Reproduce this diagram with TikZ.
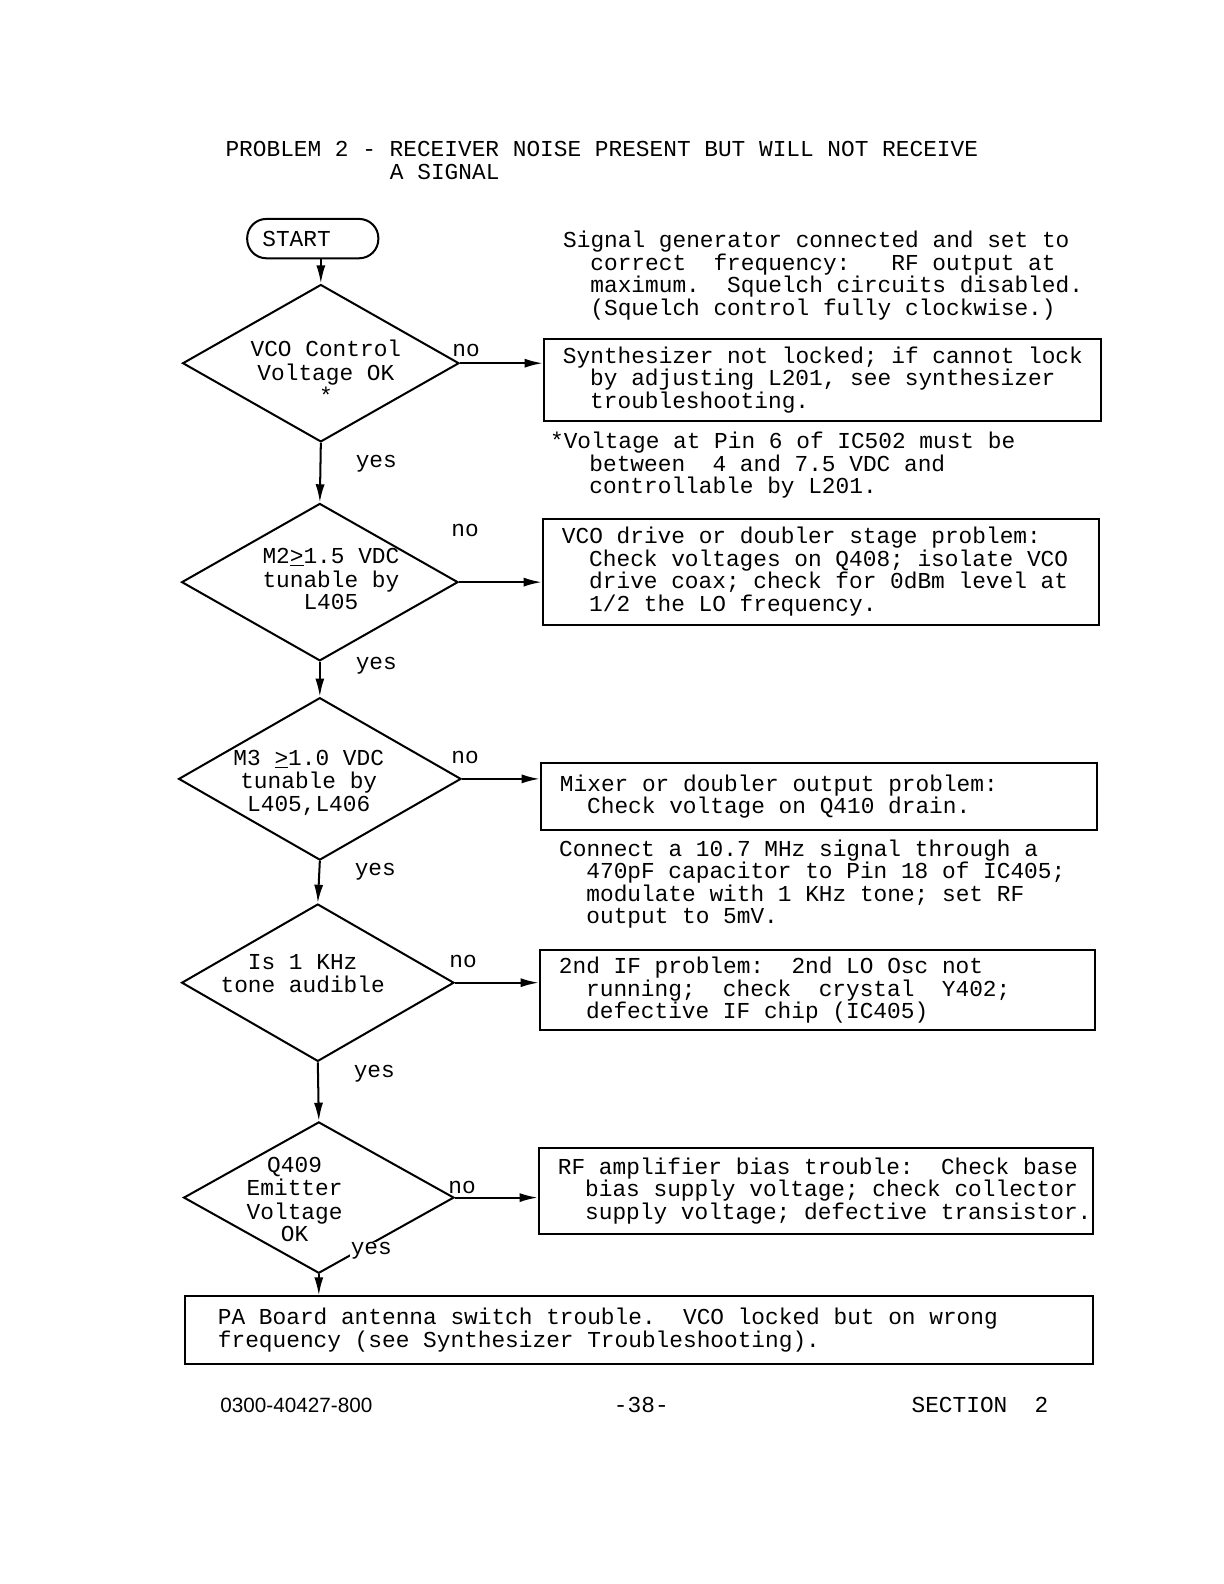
\documentclass[tikz,border=0pt]{standalone}
\usepackage{fontspec}
\setmonofont{Liberation Mono}
\setsansfont{Liberation Sans}
\usepackage{tikz}
\usetikzlibrary{shapes.geometric,arrows.meta}

\newcommand{\ind}{\hspace*{27pt}}
% text of a decision, moved off the centre of its diamond
\newcommand{\dtext}[3]{\makebox[0pt]{\hspace*{#1}\hspace*{#1}\raisebox{#2}[\height][\depth]{\begin{tabular}{@{}c@{}}#3\end{tabular}}}}
\frenchspacing

\begin{document}
\begin{tikzpicture}[x=1pt,y=-1pt,
	every node/.style={font=\ttfamily\fontsize{22.6}{22.3}\selectfont},
	decision/.style={draw,diamond,aspect=1.76,line width=2pt,inner sep=0pt,minimum width=274pt,minimum height=156pt,align=center},
	problem/.style={draw,rectangle,line width=2pt,inner xsep=19pt,inner ysep=0pt,align=left,anchor=north west,
		execute at begin node={\spaceskip=0pt\xspaceskip=0pt}},
	note/.style={inner sep=0pt,align=left,anchor=north west},
	arr/.style={line width=2pt,-{Latex[length=18pt,width=9pt]}}]
	\useasboundingbox (0,0) rectangle (1213,1570);
	% title
	\node[anchor=base west] (title1) at (220,155) {PROBLEM 2 - RECEIVER NOISE PRESENT BUT WILL NOT RECEIVE};
	\node[anchor=base west] (title2) at (383,178) {A SIGNAL};
	% start and decisions
	\node[draw,rounded corners=19pt,line width=2pt,minimum width=130pt,minimum height=39pt,text width=100pt,inner xsep=15pt,align=left] (start) at (310,236.5) {START};
	\node[decision] (d1) at (318,360) {\dtext{5pt}{-12pt}{VCO Control\\Voltage OK\\{*}}};
	\node[decision] (d2) at (317,577) {\dtext{11pt}{0pt}{M2\underline{>}1.5 VDC\\tunable by\\L405}};
	\node[decision,minimum width=280pt,minimum height=161pt] (d3) at (317,772) {\dtext{-11pt}{-5pt}{M3 \underline{>}1.0 VDC\\tunable by\\L405,L406}};
	\node[decision,minimum width=270pt] (d4) at (315,974) {\dtext{-15pt}{6pt}{Is 1 KHz\\tone audible}};
	\node[decision,minimum width=268pt,minimum height=150pt] (d5) at (316,1187) {\dtext{-24pt}{-5pt}{Q409\\Emitter\\Voltage\\OK}};
	% notes
	\node[note] (setup) at (558,229) {Signal generator connected and set to\\\ind correct\ \ frequency:\ \ \ RF output at\\\ind maximum.\ \ Squelch circuits disabled.\\\ind (Squelch control fully clockwise.)};
	\node[note] (vnote) at (545,428) {*Voltage at Pin 6 of IC502 must be\\\hspace*{39pt}between\ \ 4 and 7.5 VDC and\\\hspace*{39pt}controllable by L201.};
	\node[note] (ifnote) at (554,832) {Connect a 10.7 MHz signal through a\\\ind 470pF capacitor to Pin 18 of IC405;\\\ind modulate with 1 KHz tone; set RF\\\ind output to 5mV.};
	% problem boxes
	\node[problem,text width=514pt,minimum height=81pt] (b1) at (538,335) {\mbox{Synthesizer not locked; if cannot lock}\\\ind by adjusting L201, see synthesizer\\\ind troubleshooting.};
	\node[problem,text width=513pt,minimum height=105pt] (b2) at (537,513) {VCO drive or doubler stage problem:\\\ind Check voltages on Q408; isolate VCO\\\ind drive coax; check for 0dBm level at\\\ind 1/2 the LO frequency.};
	\node[problem,text width=513pt,minimum height=67pt] (b3) at (535,755) {Mixer or doubler output problem:\\\ind Check voltage on Q410 drain.};
	\node[problem,text width=512pt,minimum height=79pt] (b4) at (534,941) {2nd IF problem:\ \ 2nd LO Osc not\\\ind running;\ \ check\ \ crystal\ \ Y402;\\\ind defective IF chip (IC405)};
	\node[problem,text width=511pt,minimum height=85pt] (b5) at (533,1137) {\mbox{RF amplifier bias trouble:\ \ Check base}\\\ind \mbox{bias supply voltage; check collector}\\\ind \mbox{supply voltage; defective transistor.}};
	\node[problem,text width=834pt,inner xsep=33pt,minimum height=67pt] (b6) at (182,1284) {PA Board antenna switch trouble.\ \ VCO locked but on wrong\\frequency (see Synthesizer Troubleshooting).};
	% yes / no labels
	\node (no1) at (462,347) {no};
	\node (no2) at (461,526) {no};
	\node (no3) at (461,751) {no};
	\node (no4) at (459,953) {no};
	\node (no5) at (458,1177) {no};
	\node (yes1) at (373,460) {yes};
	\node (yes2) at (373,660) {yes};
	\node (yes3) at (372,864) {yes};
	\node (yes4) at (371,1064) {yes};
	\node[fill=white,inner sep=1pt] (yes5) at (368,1240) {yes};
	% down the yes path
	\draw[arr] (start.south -| d1.north) -- (d1.north);
	\draw[arr] (d1.south) -- (d2.north);
	\draw[arr] (d2.south) -- (d3.north);
	\draw[arr] (d3.south) -- (d4.north);
	\draw[arr] (d4.south) -- (d5.north);
	\draw[arr] (d5.south) -- (b6.north -| d5.south);
	% no branches
	\draw[arr] (d1.east) -- (d1.east -| b1.west);
	\draw[arr] (d2.east) -- (d2.east -| b2.west);
	\draw[arr] (d3.east) -- (d3.east -| b3.west);
	\draw[arr] (d4.east) -- (d4.east -| b4.west);
	\draw[arr] (d5.east) -- (d5.east -| b5.west);
	% footer
	\node[anchor=base west,font=\sffamily\fontsize{20.5}{20.5}\selectfont] (docno) at (215,1400) {0300-40427-800};
	\node[anchor=base west] (page) at (605,1400) {-38-};
	\node[anchor=base west] (section) at (900,1400) {SECTION\ \ 2};
\end{tikzpicture}
\end{document}
